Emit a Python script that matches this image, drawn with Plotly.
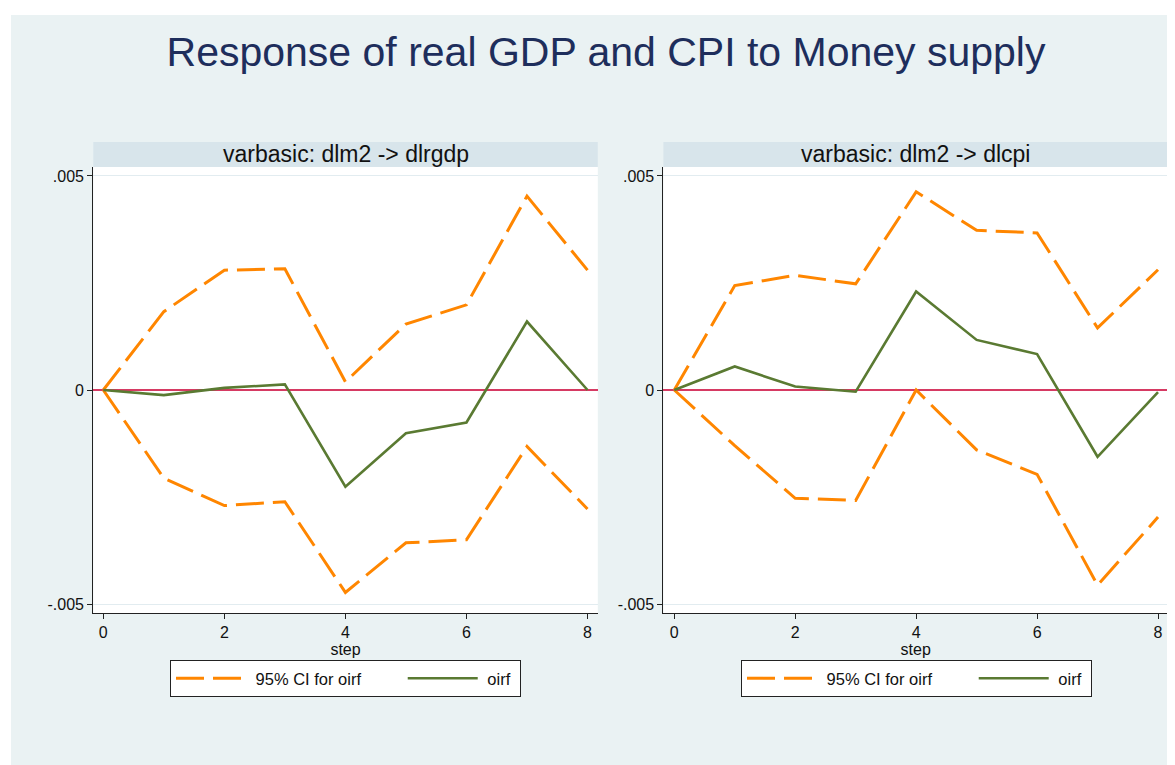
import plotly.graph_objects as go

# ---------------- data ----------------
steps = [0, 1, 2, 3, 4, 5, 6, 7, 8]
x_ticks = [0, 2, 4, 6, 8]
y_ticks = [-0.005, 0, 0.005]
y_ticktext = ["-.005", "0", ".005"]

gdp_oirf = [0, -0.00012, 0.00005, 0.00013, -0.00226, -0.00101, -0.00076, 0.00160, 0.0]
gdp_upper = [0, 0.00183, 0.00280, 0.00283, 0.00019, 0.00154, 0.00199, 0.00453, 0.00280]
gdp_lower = [0, -0.00206, -0.00270, -0.00261, -0.00473, -0.00357, -0.00350, -0.00132, -0.00278]

cpi_oirf = [0, 0.00055, 0.00008, -0.00004, 0.00230, 0.00117, 0.00084, -0.00156, -0.00005]
cpi_upper = [0, 0.00244, 0.00268, 0.00248, 0.00463, 0.00373, 0.00367, 0.00145, 0.00281]
cpi_lower = [0, -0.00130, -0.00253, -0.00258, 0.0, -0.00140, -0.00197, -0.00456, -0.00297]

main_title = "Response of real GDP and CPI to Money supply"
panel_titles = ["varbasic: dlm2 -> dlrgdp", "varbasic: dlm2 -> dlcpi"]
ci_name = "95% CI for oirf"
oirf_name = "oirf"
x_title = "step"

# ---------------- style ----------------
# page body has an 8px margin, so the figure is 8px smaller than the window
OFF = 8
W, H = 1175 - OFF, 765 - OFF
FONT = "Liberation Sans, Arial, Helvetica, sans-serif"
BG = "#EAF2F3"
STRIP = "#D8E5EB"
ORANGE = "#FF8600"
GREEN = "#5A7A32"
ZERO = "#D63A63"
AXIS = "#222222"
NB = "\u00a0"

def fx(p):
    return (p - OFF) / W

def fy(p):
    return 1 - (p - OFF) / H

panels = [
    dict(title=panel_titles[0], oirf=gdp_oirf, up=gdp_upper, lo=gdp_lower,
         xa="x", ya="y", leg="legend", left=93.3, right=597.8, xr=[-0.165, 8.17], legx=170),
    dict(title=panel_titles[1], oirf=cpi_oirf, up=cpi_upper, lo=cpi_lower,
         xa="x2", ya="y2", leg="legend2", left=663.4, right=1168.0, xr=[-0.18, 8.165], legx=741),
]

plot_top, plot_bot = 167.0, 613.0
strip_top = 142.0

fig = go.Figure()
shapes = [
    dict(type="rect", xref="paper", yref="paper", x0=0, x1=fx(11), y0=0, y1=1,
         fillcolor="white", line_width=0, layer="below"),
    dict(type="rect", xref="paper", yref="paper", x0=0, x1=1, y0=fy(15), y1=1,
         fillcolor="white", line_width=0, layer="below"),
]
annotations = []
layout_axes = {}
DASH = "28px,9px"

for i, p in enumerate(panels):
    fig.add_trace(go.Scatter(x=steps, y=p["up"], mode="lines",
                             name=NB + ci_name + NB * 8,
                             line=dict(color=ORANGE, width=3, dash=DASH),
                             xaxis=p["xa"], yaxis=p["ya"], legend=p["leg"],
                             legendgroup=f"ci{i}", showlegend=True))
    fig.add_trace(go.Scatter(x=steps, y=p["lo"], mode="lines", name=ci_name,
                             line=dict(color=ORANGE, width=3, dash=DASH),
                             xaxis=p["xa"], yaxis=p["ya"], legend=p["leg"],
                             legendgroup=f"ci{i}", showlegend=False))
    fig.add_trace(go.Scatter(x=steps, y=p["oirf"], mode="lines",
                             name=NB + oirf_name + NB,
                             line=dict(color=GREEN, width=2.6),
                             xaxis=p["xa"], yaxis=p["ya"], legend=p["leg"],
                             legendgroup=f"o{i}", showlegend=True))

    sfx = "" if i == 0 else "2"
    layout_axes["xaxis" + sfx] = dict(
        domain=[fx(p["left"]), fx(p["right"])], anchor="y" + sfx, range=p["xr"],
        tickvals=x_ticks, showline=True, linecolor=AXIS, linewidth=1.2,
        ticks="outside", ticklen=5, tickcolor=AXIS, tickwidth=1.2,
        showgrid=False, zeroline=False,
        tickfont=dict(size=16, color="#111", family=FONT),
        title=dict(text=x_title, standoff=0, font=dict(size=16, color="#111", family=FONT)),
    )
    layout_axes["yaxis" + sfx] = dict(
        domain=[fy(plot_bot), fy(plot_top)], anchor="x" + sfx, range=[-0.00521, 0.00521],
        tickvals=y_ticks, ticktext=y_ticktext, showline=True, linecolor=AXIS, linewidth=1.2,
        ticks="outside", ticklen=5, tickcolor=AXIS, tickwidth=1.2,
        showgrid=True, gridcolor="#E2ECF0", gridwidth=1,
        zeroline=True, zerolinecolor=ZERO, zerolinewidth=1.5,
        tickfont=dict(size=16, color="#111", family=FONT),
    )
    shapes.append(dict(type="rect", xref="paper", yref="paper",
                       x0=fx(p["left"]), x1=fx(p["right"]), y0=fy(plot_top), y1=fy(strip_top),
                       fillcolor=STRIP, line_width=0))
    annotations.append(dict(text=p["title"], xref="paper", yref="paper",
                            x=fx((p["left"] + p["right"]) / 2), y=fy((plot_top + strip_top) / 2),
                            xanchor="center", yanchor="middle", showarrow=False,
                            font=dict(size=23, color="#111", family=FONT)))
    layout_axes[p["leg"]] = dict(
        x=fx(p["legx"]), y=fy(660), xanchor="left", yanchor="top", orientation="h",
        bgcolor="white", bordercolor=AXIS, borderwidth=1, itemwidth=70,
        font=dict(size=16.5, color="#111", family=FONT), traceorder="normal",
    )

fig.update_layout(
    width=W, height=H, margin=dict(l=0, r=0, t=0, b=0, autoexpand=False),
    paper_bgcolor=BG, plot_bgcolor="white",
    font=dict(family=FONT, color="#111"),
    title=dict(text=main_title, x=fx(606), y=fy(52), xanchor="center", yanchor="middle",
               xref="paper", yref="paper",
               font=dict(size=41, color="#1E2E5C", family=FONT)),
    shapes=shapes, annotations=annotations, showlegend=True,
    **layout_axes,
)

fig.write_html("out.html")
